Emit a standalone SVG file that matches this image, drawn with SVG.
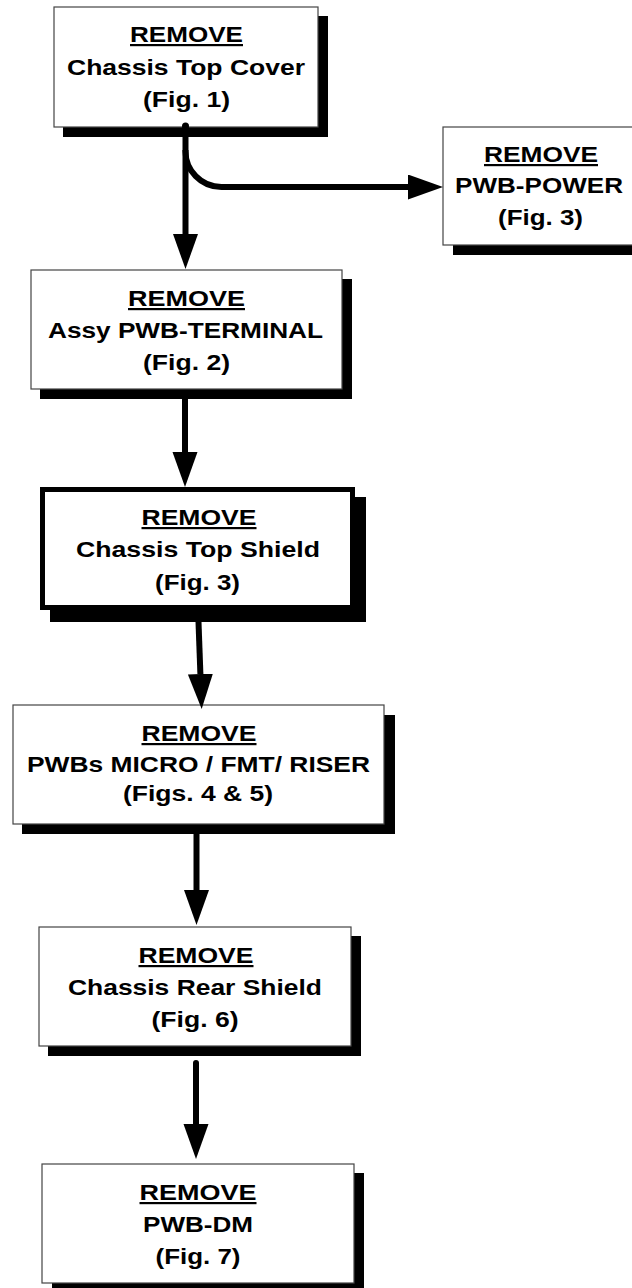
<svg xmlns="http://www.w3.org/2000/svg" width="632" height="1288" viewBox="0 0 632 1288">
<style>
.box{fill:#fff;stroke:#444;stroke-width:1.2}
.thick{fill:#fff;stroke:#000;stroke-width:5}
.shadow{fill:#000}
text{font-family:"Liberation Sans",Arial,sans-serif;font-weight:bold;font-size:22px;fill:#000;text-anchor:middle}
.u{text-decoration:underline}
.conn{fill:none;stroke:#000;stroke-width:6;stroke-linecap:butt}
</style>
<defs>
<marker id="ah" markerUnits="userSpaceOnUse" markerWidth="36" markerHeight="26" refX="0" refY="12.5" orient="auto" viewBox="0 0 36 26">
<path d="M0,0 L35,12.5 L0,25 z" fill="#000"/>
</marker>
</defs>
<rect width="632" height="1288" fill="#fff"/>

<g id="n1">
<rect class="shadow" x="63" y="16" width="265" height="121"/>
<rect class="box" x="54" y="7" width="264" height="120"/>
<text x="186.5" y="42" class="u" textLength="113" lengthAdjust="spacingAndGlyphs">REMOVE</text>
<text x="186" y="75" textLength="238" lengthAdjust="spacingAndGlyphs">Chassis Top Cover</text>
<text x="186.5" y="107" textLength="87" lengthAdjust="spacingAndGlyphs">(Fig. 1)</text>
</g>

<g id="n7">
<rect class="shadow" x="453" y="136" width="190" height="119"/>
<rect class="box" x="443" y="127" width="197" height="118"/>
<text x="541" y="162" class="u" textLength="114" lengthAdjust="spacingAndGlyphs">REMOVE</text>
<text x="539" y="193" textLength="168" lengthAdjust="spacingAndGlyphs">PWB-POWER</text>
<text x="540.5" y="225" textLength="85" lengthAdjust="spacingAndGlyphs">(Fig. 3)</text>
</g>

<g id="n2">
<rect class="shadow" x="40" y="279" width="312" height="120"/>
<rect class="box" x="31" y="270" width="311" height="119"/>
<text x="186.5" y="306" class="u" textLength="117" lengthAdjust="spacingAndGlyphs">REMOVE</text>
<text x="185.5" y="338" textLength="275" lengthAdjust="spacingAndGlyphs">Assy PWB-TERMINAL</text>
<text x="186.5" y="370" textLength="87" lengthAdjust="spacingAndGlyphs">(Fig. 2)</text>
</g>

<g id="n3">
<rect class="shadow" x="50" y="497" width="316" height="125"/>
<rect class="thick" x="42.5" y="489.5" width="310" height="118"/>
<text x="199" y="525" class="u" textLength="115" lengthAdjust="spacingAndGlyphs">REMOVE</text>
<text x="198" y="557" textLength="244" lengthAdjust="spacingAndGlyphs">Chassis Top Shield</text>
<text x="197.5" y="590" textLength="85" lengthAdjust="spacingAndGlyphs">(Fig. 3)</text>
</g>

<g id="n4">
<rect class="shadow" x="22" y="715" width="373" height="119"/>
<rect class="box" x="13" y="705" width="371" height="119"/>
<text x="199" y="741" class="u" textLength="115" lengthAdjust="spacingAndGlyphs">REMOVE</text>
<text x="198.5" y="772" textLength="343" lengthAdjust="spacingAndGlyphs">PWBs MICRO / FMT/ RISER</text>
<text x="198" y="801" textLength="150" lengthAdjust="spacingAndGlyphs">(Figs. 4 &amp; 5)</text>
</g>

<g id="n5">
<rect class="shadow" x="48" y="936" width="313" height="120"/>
<rect class="box" x="39" y="927" width="312" height="119"/>
<text x="196" y="963" class="u" textLength="115" lengthAdjust="spacingAndGlyphs">REMOVE</text>
<text x="195" y="995" textLength="254" lengthAdjust="spacingAndGlyphs">Chassis Rear Shield</text>
<text x="195" y="1027" textLength="87" lengthAdjust="spacingAndGlyphs">(Fig. 6)</text>
</g>

<g id="n6">
<rect class="shadow" x="52" y="1173" width="312" height="120"/>
<rect class="box" x="42" y="1164" width="312" height="119"/>
<text x="198" y="1200" class="u" textLength="117" lengthAdjust="spacingAndGlyphs">REMOVE</text>
<text x="198" y="1232" textLength="110" lengthAdjust="spacingAndGlyphs">PWB-DM</text>
<text x="198" y="1264" textLength="85" lengthAdjust="spacingAndGlyphs">(Fig. 7)</text>
</g>

<g id="connectors">
<circle cx="185.5" cy="126" r="3.5" fill="#000"/>
<path class="conn" d="M185.5,126 L185.5,234" marker-end="url(#ah)"/>
<path class="conn" d="M185.5,150 A36,36 0 0 0 221.5,187 L408,187" marker-end="url(#ah)"/>
<path class="conn" d="M185,399 L185,452" marker-end="url(#ah)"/>
<path class="conn" d="M198.5,622 L200.4,674" marker-end="url(#ah)"/>
<path class="conn" d="M196.5,834 L196.5,890" marker-end="url(#ah)"/>
<path class="conn" d="M196,1063 L196,1124" marker-end="url(#ah)" style="stroke-linecap:round"/>
</g>
</svg>
